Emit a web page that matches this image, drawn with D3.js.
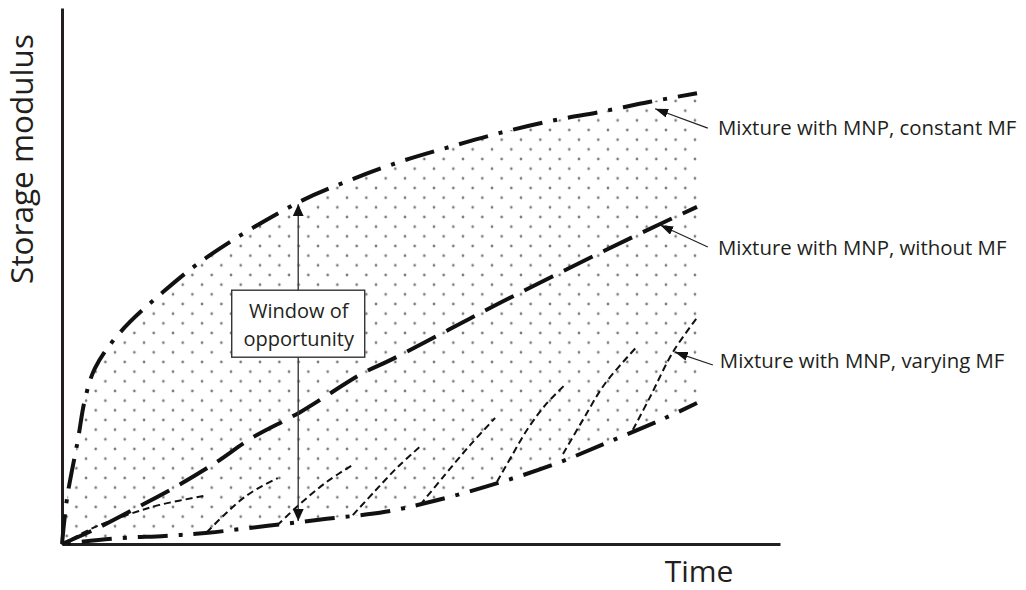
<!DOCTYPE html>
<html>
<head>
<meta charset="utf-8">
<script src="https://cdn.jsdelivr.net/npm/d3@7"></script>
<style>
  html, body { margin: 0; padding: 0; background: #ffffff; }
  svg { display: block; }
</style>
</head>
<body>
<svg id="chart" width="1026" height="590"></svg>
<script>
// ---------- data (time t in 0..100, storage modulus G in 0..100) ----------
const constantMF = [[0,0],[0.8,8.6],[2.5,19.4],[3.6,26.9],[5.2,32.8],[9.1,39.4],[15.9,47.0],[23.3,53.9],[37.0,63.6],[45.4,67.9],[53.2,71.3],[61.1,74.1],[69.0,76.7],[76.9,78.9],[84.7,80.6],[92.6,82.5],[100,84.1]];
const lowerBound = [[0,0],[9.1,1.1],[16.2,1.5],[23.0,2.1],[32.4,3.4],[41.7,4.7],[50.9,6.0],[59.8,8.4],[68.7,11.4],[77.6,14.9],[86.0,19.0],[94.6,23.3],[100,26.3]];
const withoutMF = [[0,0],[6.0,3.2],[12.3,7.1],[18.1,10.8],[24.1,15.1],[29.9,19.8],[37.5,24.6],[47.4,31.9],[51.7,34.3],[61.1,40.1],[69.0,45.0],[84.7,54.3],[94.2,59.7],[100,62.9]];
const varyingMF = [
  [[0,0],[4.9,3.0],[10.2,5.4],[15.4,7.3],[22.5,9.0]],
  [[22.8,2.2],[25.7,5.6],[28.8,8.8],[31.5,10.8],[34.0,12.3]],
  [[33.9,3.5],[37.5,7.5],[41.7,11.6],[45.7,14.7]],
  [[45.8,5.4],[49.3,9.9],[52.9,14.4],[56.7,18.5]],
  [[56.4,7.3],[60.3,12.9],[64.3,18.5],[68.2,23.5]],
  [[68.5,11.6],[70.9,16.6],[73.4,21.6],[76.1,25.9],[79.2,29.7]],
  [[78.9,16.8],[82.1,23.3],[85.5,29.9],[90.6,36.9]],
  [[89.9,21.3],[92.6,27.4],[96.2,35.8],[100,42.2]]
];
const axisMax = { t: 113.07, G: 100 };
const xTitle = "Time";
const yTitle = "Storage modulus";
const windowArrow = { t: 37.2, from: 4.3, to: 63.4, center: 41.1, lines: ["Window of", "opportunity"] };
const seriesLabels = [
  { text: "Mixture with MNP, constant MF", tip: [93.4, 81.2], tail: [101.7, 77.6], pos: [103.3, 76.3] },
  { text: "Mixture with MNP, without MF",  tip: [94.2, 59.5], tail: [101.7, 55.4], pos: [103.3, 53.9] },
  { text: "Mixture with MNP, varying MF",  tip: [96.5, 35.8], tail: [102.5, 33.4], pos: [103.6, 32.8] }
];

// ---------- scales ----------
const x = d3.scaleLinear().domain([0, 100]).range([62, 697]);
const y = d3.scaleLinear().domain([0, 100]).range([544, 8]);
const xAxisScale = d3.scaleLinear().domain([0, axisMax.t]).range([x(0), x(axisMax.t)]);
const yAxisScale = d3.scaleLinear().domain([0, axisMax.G]).range([y(0), y(axisMax.G)]);

const svg = d3.select("#chart");
const FONT = "'Open Sans', 'Noto Sans', sans-serif";
const INK = "#231f20";

// ---------- pattern ----------
const defs = svg.append("defs");
const pat = defs.append("pattern")
  .attr("id", "dots").attr("patternUnits", "userSpaceOnUse")
  .attr("x", 13.57).attr("y", -0.43).attr("width", 19.33).attr("height", 19.33);
pat.append("circle").attr("cx", 4.83).attr("cy", 4.83).attr("r", 1.35).attr("fill", "#7a7a7a");
pat.append("circle").attr("cx", 14.5).attr("cy", 14.5).attr("r", 1.35).attr("fill", "#7a7a7a");

function addMarker(id, w, h) {
  defs.append("marker")
    .attr("id", id).attr("markerUnits", "userSpaceOnUse")
    .attr("viewBox", `0 0 ${w} ${h}`)
    .attr("markerWidth", w).attr("markerHeight", h)
    .attr("refX", w).attr("refY", h / 2)
    .attr("orient", "auto-start-reverse")
    .append("path").attr("d", `M0,0L${w},${h/2}L0,${h}Z`).attr("fill", "#111");
}
addMarker("headBig", 12, 11);
addMarker("headSmall", 13, 9);

const line = d3.line().x(d => x(d[0])).y(d => y(d[1])).curve(d3.curveCatmullRom.alpha(0.5));

// ---------- window region fill ----------
const upPath = line(constantMF);
const lowRev = line(lowerBound.slice().reverse());
svg.append("path")
  .attr("d", upPath + "L" + lowRev.slice(1) + "Z")
  .attr("fill", "url(#dots)").attr("stroke", "none");

// ---------- axes ----------
const gx = svg.append("g").attr("transform", `translate(0,${y(0)})`)
  .call(d3.axisBottom(xAxisScale).ticks(0).tickSizeOuter(0));
const gy = svg.append("g").attr("transform", `translate(${x(0)},0)`)
  .call(d3.axisLeft(yAxisScale).ticks(0).tickSizeOuter(0));
[gx, gy].forEach(g => g.select(".domain").attr("stroke", INK).attr("stroke-width", 3));

// ---------- curves ----------
svg.append("path").attr("d", line(withoutMF))
  .attr("fill", "none").attr("stroke", "#111").attr("stroke-width", 4)
  .attr("stroke-dasharray", "32 12");
svg.append("path").attr("d", line(lowerBound))
  .attr("fill", "none").attr("stroke", "#111").attr("stroke-width", 4)
  .attr("stroke-dasharray", "30 11 4 11").attr("stroke-dashoffset", -20);
svg.append("path").attr("d", line(constantMF))
  .attr("fill", "none").attr("stroke", "#111").attr("stroke-width", 4)
  .attr("stroke-dasharray", "30 11 4 11");
svg.selectAll(".vary").data(varyingMF).enter().append("path")
  .attr("class", "vary").attr("d", d => line(d))
  .attr("fill", "none").attr("stroke", "#111").attr("stroke-width", 2)
  .attr("stroke-dasharray", "7 4");

// ---------- window of opportunity ----------
svg.append("line")
  .attr("x1", x(windowArrow.t)).attr("x2", x(windowArrow.t))
  .attr("y1", y(windowArrow.from)).attr("y2", y(windowArrow.to))
  .attr("stroke", "#3a3a3a").attr("stroke-width", 1.4)
  .attr("marker-start", "url(#headBig)").attr("marker-end", "url(#headBig)");
const bw = 133, bh = 67;
svg.append("rect")
  .attr("x", x(windowArrow.t) - bw / 2).attr("y", y(windowArrow.center) - bh / 2)
  .attr("width", bw).attr("height", bh)
  .attr("fill", "#fff").attr("stroke", "#333").attr("stroke-width", 1.4);
const wt = svg.append("text")
  .attr("font-family", FONT).attr("font-size", 20).attr("fill", INK)
  .attr("text-anchor", "middle");
windowArrow.lines.forEach((s, i) => {
  wt.append("tspan").attr("x", x(windowArrow.t) + 0.5)
    .attr("y", y(windowArrow.center) - 6 + i * 28).text(s);
});

// ---------- series labels ----------
seriesLabels.forEach(l => {
  svg.append("line")
    .attr("x1", x(l.tail[0])).attr("y1", y(l.tail[1]))
    .attr("x2", x(l.tip[0])).attr("y2", y(l.tip[1]))
    .attr("stroke", "#222").attr("stroke-width", 1.2)
    .attr("marker-end", "url(#headSmall)");
  svg.append("text")
    .attr("x", x(l.pos[0])).attr("y", y(l.pos[1]))
    .attr("font-family", FONT).attr("font-size", 20.4).attr("fill", INK)
    .text(l.text);
});

// ---------- axis titles ----------
svg.append("text")
  .attr("x", 699).attr("y", 582)
  .attr("text-anchor", "middle")
  .attr("font-family", FONT).attr("font-size", 30).attr("fill", INK)
  .text(xTitle);
svg.append("text")
  .attr("transform", "translate(33,159) rotate(-90)")
  .attr("text-anchor", "middle")
  .attr("font-family", FONT).attr("font-size", 31.5).attr("fill", INK)
  .text(yTitle);
</script>
</body>
</html>
